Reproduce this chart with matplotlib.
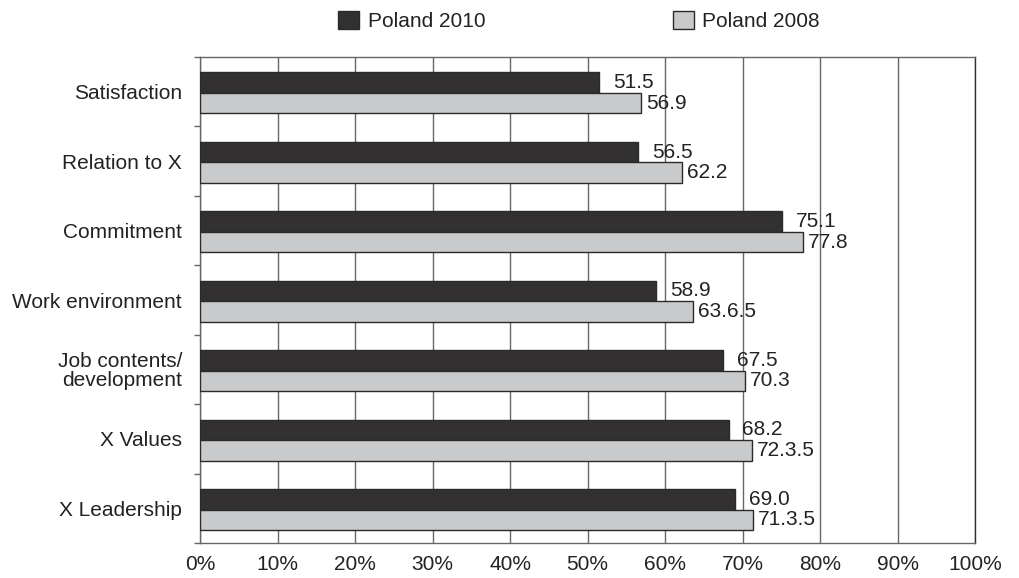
import matplotlib.pyplot as plt
from matplotlib.patches import Patch

plt.rcParams['font.family'] = ['Liberation Sans', 'DejaVu Sans']

categories = ["Satisfaction", "Relation to X", "Commitment", "Work environment",
              "Job contents/\ndevelopment", "X Values", "X Leadership"]
poland_2010 = [51.5, 56.5, 75.1, 58.9, 67.5, 68.2, 69.0]
poland_2008 = [56.9, 62.2, 77.8, 63.6, 70.3, 71.2, 71.3]
labels_2010 = ["51.5", "56.5", "75.1", "58.9", "67.5", "68.2", "69.0"]
labels_2008 = ["56.9", "62.2", "77.8", "63.6.5", "70.3", "72.3.5", "71.3.5"]
xticks = [0, 10, 20, 30, 40, 50, 60, 70, 80, 90, 100]

dark = "#323031"
light = "#c9cacc"
edge = "#2a2a2a"
grid = "#666666"
txt = "#222222"

fig = plt.figure(figsize=(10.19, 5.78), dpi=100)
ax = fig.add_axes([200 / 1019, 1 - 543 / 578, 775 / 1019, 486 / 578])

ypos = list(range(len(categories)))
h = 0.295
y_dark = [y - 0.13 for y in ypos]
y_light = [y + 0.165 for y in ypos]

ax.barh(y_dark, poland_2010, height=h, color=dark, edgecolor=edge, linewidth=1, zorder=3)
ax.barh(y_light, poland_2008, height=h, color=light, edgecolor=edge, linewidth=1, zorder=3)

for y, v, s in zip(y_dark, poland_2010, labels_2010):
    ax.annotate(s, (v, y), xytext=(10, 0), textcoords="offset points",
                va="center", ha="left", fontsize=15, color=txt, zorder=4)
for y, v, s in zip(y_light, poland_2008, labels_2008):
    ax.annotate(s, (v, y), xytext=(3.6, 0), textcoords="offset points",
                va="center", ha="left", fontsize=15, color=txt, zorder=4)

ax.set_xlim(0, 100)
ax.set_ylim(len(categories) - 0.5, -0.5)
ax.set_xticks(xticks)
ax.set_xticklabels([f"{t}%" for t in xticks])
ax.set_yticks(ypos)
ax.set_yticklabels(categories, linespacing=1.0)
ax.set_yticks([y + 0.5 for y in range(-1, len(categories))], minor=True)

ax.tick_params(axis="x", length=0, pad=9, labelsize=15, labelcolor=txt)
ax.tick_params(axis="y", which="major", length=0, pad=13, labelsize=15, labelcolor=txt)
ax.tick_params(axis="y", which="minor", length=4.5, width=1, color=grid, direction="out")

ax.grid(axis="x", color=grid, linewidth=1, zorder=0)
for side, sp in ax.spines.items():
    sp.set_color(grid)
    sp.set_linewidth(1)
ax.spines["right"].set_color("#333333")

handles = [Patch(facecolor=dark, edgecolor=edge, label="Poland 2010"),
           Patch(facecolor=light, edgecolor=edge, label="Poland 2008")]
fig.legend(handles=handles, loc="center", bbox_to_anchor=(579 / 1019, 1 - 21 / 578),
           ncol=2, frameon=False, fontsize=15, handlelength=1.0, handleheight=1.0,
           handletextpad=0.4, columnspacing=9.0, labelcolor=txt)

fig.savefig("out.png", dpi=100, facecolor="white")
